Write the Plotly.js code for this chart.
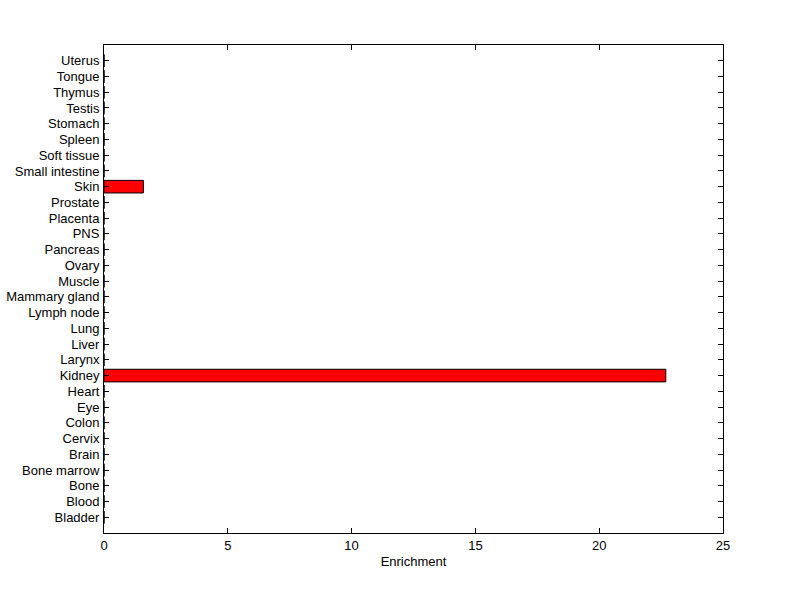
<!DOCTYPE html>
<html><head><meta charset="utf-8">
<script src="https://cdn.plot.ly/plotly-3.0.1.min.js"></script>
<style>body{margin:0;background:#fff}#c{width:800px;height:599px}</style>
</head><body><div id="c"></div>
<script>
const tissues = ["Bladder","Blood","Bone","Bone marrow","Brain","Cervix","Colon","Eye","Heart","Kidney","Larynx","Liver","Lung","Lymph node","Mammary gland","Muscle","Ovary","Pancreas","PNS","Placenta","Prostate","Skin","Small intestine","Soft tissue","Spleen","Stomach","Testis","Thymus","Tongue","Uterus"];
const enrichment = [0,0,0,0,0,0,0,0,0,22.69,0,0,0,0,0,0,0,0,0,0,0,1.59,0,0,0,0,0,0,0,0];
const xTicks = [0,5,10,15,20,25];
const positions = tissues.map((t,i)=>i+1);

Plotly.newPlot('c',[{
  type:'bar', orientation:'h',
  x: enrichment, y: positions, width: 0.8,
  marker:{color:'#ff0000', line:{color:'#000', width:1}},
  hoverinfo:'x+text', text: tissues, textposition:'none'
}],{
  width:800, height:599,
  margin:{l:104, r:77, t:45, b:66, pad:0},
  paper_bgcolor:'#fff', plot_bgcolor:'#fff',
  font:{family:'Liberation Sans, Arial, sans-serif', size:13, color:'#000'},
  showlegend:false,
  xaxis:{range:[0,25], tickvals:xTicks, ticks:'inside', ticklen:5, tickcolor:'#000',
    showline:true, linecolor:'#000', linewidth:1, mirror:'allticks', showgrid:false, zeroline:false,
    title:{text:'Enrichment', font:{size:13}, standoff:5}},
  yaxis:{range:[0,31], tickvals:positions, ticktext:tissues, ticks:'inside', ticklen:5, tickcolor:'#000',
    showline:true, linecolor:'#000', linewidth:1, mirror:'allticks', showgrid:false, zeroline:false,
    ticklabelstandoff:1}
},{displayModeBar:false, staticPlot:true});
</script></body></html>
